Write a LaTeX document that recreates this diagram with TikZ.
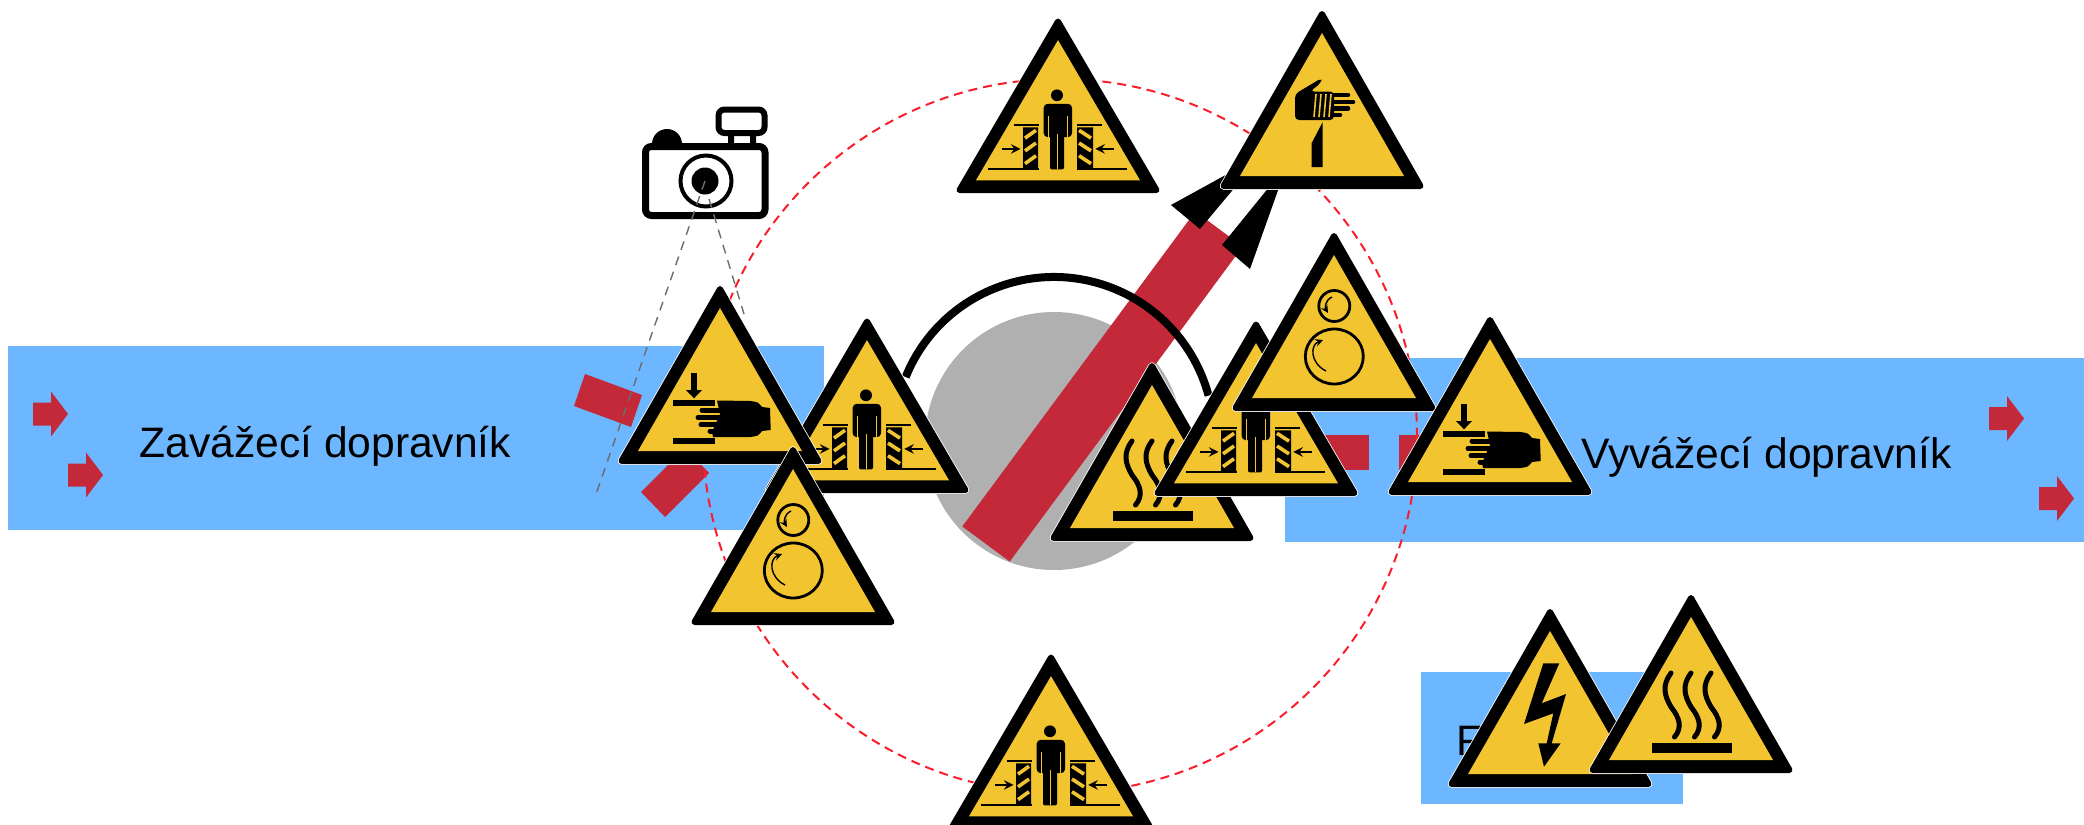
\documentclass[tikz,border=0pt]{standalone}
\usepackage{fontspec}
\usepackage{xcolor}
\setmainfont{Liberation Sans}
\definecolor{beltblue}{RGB}{108,183,255}
\definecolor{barred}{RGB}{196,41,57}
\definecolor{signyellow}{RGB}{242,196,48}
\definecolor{ringred}{RGB}{250,30,45}
\definecolor{hubgray}{RGB}{176,176,176}

\newcommand{\crushglyph}{
    \fill (-1,99.7) circle (6);
    \fill[rounded corners=2pt] (-14.3,57) -- (-14.3,91) -- (14,91) -- (14,57) -- cycle;
    \fill[rounded corners=1pt] (-8,62) rectangle (6,24);
    \draw[signyellow, line width=.5pt] (-9.7,56) -- (-9.7,79) (9.3,56) -- (9.3,79) (-1,24) -- (-1,60);
    \draw[line width=.9pt] (-44,69) -- (-19,69) (19,69) -- (44,69);
    \draw[line width=1.1pt] (-70,24.7) -- (-19,24.7) (19,24.7) -- (69,24.7);
    \fill (-35,25) rectangle (-20,67) (19,25) rectangle (35,67);
    \draw[signyellow, line width=1.8pt] (-33,30) -- (-22,38) (-33,43) -- (-22,51) (-33,56) -- (-22,64)
        (33,30) -- (21,38) (33,43) -- (21,51) (33,56) -- (21,64);
    \draw[line width=1.1pt, -stealth] (-56,45) -- (-37.5,45);
    \draw[line width=1.1pt, -stealth] (55.7,45) -- (37.3,45);
}
\newcommand{\handglyph}{
    \fill (-29,91) rectangle (-22.7,74);
    \fill (-34,74) -- (-18,74) -- (-26,65.7) -- cycle;
    \fill (-46.7,58) rectangle (-5,63.7);
    \fill (-46.7,20.3) rectangle (-5,25.7);
    \fill (-3,63.5) -- (30,63) .. controls (38,62) .. (42,57) -- (50,56) -- (50.7,34) -- (42,33) .. controls (38,28) .. (30,27) -- (-7,27) -- (-8,32) -- (0,50) -- cycle;
    \draw[line width=2.5pt, line cap=round] (-18,54) -- (5,54) (-22,46.5) -- (5,46.5) (-19,39.3) -- (5,39.3) (-10,33) -- (5,33);
}
\newcommand{\rollerglyph}{
    \draw[line width=1.4pt] (.3,105) circle (15.5);
    \draw[line width=1.4pt] (.3,54.5) ellipse (29 and 27.5);
    \draw[line width=.7pt, -stealth] (-8,40) .. controls (-24,48) and (-24,66) .. (-11,71);
    \draw[line width=.7pt, -stealth] (-2,114) .. controls (-9,111) and (-9,103) .. (-6,98);
}
\newcommand{\cutglyph}{
    \fill[rounded corners=2pt] (-.3,111) -- (-1,106) -- (-12,97.5) -- (12,97.5) -- (12,69) -- (-27,69) -- (-27,95) -- cycle;
    \draw[line width=2.3pt, line cap=round] (8,94) -- (26,94) (8,87) -- (31,87) (8,80.5) -- (26,80.5) (8,74) -- (18,74);
    \draw[signyellow, line width=.8pt] (-6,95) -- (-8,72) (-1,95) -- (-3,72) (4,95) -- (2,72) (9,95) -- (7,72);
    \fill (.7,67) -- (.7,22) -- (-10.3,22) -- (-10.3,46) -- cycle;
}
\newcommand{\heatglyph}{
    \fill (-39.5,20.3) rectangle (41,29.7);
    \draw[line width=2.5pt, line cap=round] (-20,100) .. controls (-29,88) and (-27,78) .. (-20,66) .. controls (-12,56) and (-8,46) .. (-16.5,36);
    \draw[line width=2.5pt, line cap=round] (0,100) .. controls (-9,88) and (-7,78) .. (0,66) .. controls (8,56) and (12,46) .. (3.5,36);
    \draw[line width=2.5pt, line cap=round] (20,100) .. controls (11,88) and (13,78) .. (20,66) .. controls (28,56) and (32,46) .. (23.5,36);
}
\newcommand{\boltglyph}{
    \fill (-6.7,123.7) -- (9.3,123.7) -- (-8.3,83.7) -- (16,93) -- (1.7,43.7) -- (10.7,43.7) -- (-6,20.3) -- (-11.7,43.7) -- (-3.3,43.7) -- (3.3,73.7) -- (-26,63) -- cycle;
}

\tikzset{
    belt/.style={fill=beltblue},
    beltlabel/.style={font=\fontsize{21.3}{24}\selectfont, anchor=base west, inner sep=0pt},
    ring/.style={draw=ringred, line width=1pt, dash pattern=on 4.5pt off 3pt},
    sightline/.style={draw=gray!85!black, line width=.7pt, dash pattern=on 4.5pt off 3.5pt},
    armbar/.style={draw=barred, line width=29.5pt},
    warnsign/.pic={
        \begin{scope}[x=.5pt,y=.5pt]
        \draw[white, line width=3.8pt, line join=round] (-98.5,3) -- (98.5,3) -- (0,175) -- cycle;
        \draw[fill=black, line width=3pt, line join=round] (-98.5,3) -- (98.5,3) -- (0,175) -- cycle;
        \fill[signyellow] (-82,13) -- (82,13) -- (0,156) -- cycle;
        #1
        \end{scope}
    },
    flowarrow/.pic={
        \fill[barred] (0,-11.5) -- (18,-11.5) -- (18,-22.5) -- (35,0) -- (18,22.5) -- (18,11.5) -- (0,11.5) -- cycle;
    }
}

\begin{document}
\begin{tikzpicture}[x=.5pt,y=-.5pt]
    \useasboundingbox (0,0) rectangle (2084,825);
    \coordinate (hub) at (1054,441);
    \coordinate (swing) at (1054,437);
    \coordinate (ringc) at (1060,436);
    \coordinate (barfoot) at (986,544);
    \coordinate (bartop) at (1219,229);
    \coordinate (lens) at (705,181);
    \coordinate (sighta) at (595,497);
    \coordinate (lensb) at (709,199);
    \coordinate (sightb) at (744,314);

    \fill[belt] (8,346) rectangle (824,530);
    \fill[belt] (1285,358) rectangle (2084,542);
    \fill[belt] (1421,672) rectangle (1683,804);
    \node[beltlabel] (infeed) at (139,457) {Zavážecí dopravník};
    \node[beltlabel] (outfeed) at (1581,468) {Vyvážecí dopravník};
    \node[beltlabel] (third) at (1456,755.5) {F};
    \pic (fa) at (33,414) {flowarrow};
    \pic (fb) at (68,475) {flowarrow};
    \pic (fc) at (1989,418.5) {flowarrow};
    \pic (fd) at (2039,498.5) {flowarrow};

    \fill[barred] (585,374) -- (642,395) -- (631,427) -- (574,406) -- cycle;
    \fill[barred] (641,492) -- (665,517) -- (709,473) -- (685,448) -- cycle;
    \fill[barred] (1320,435) rectangle (1369,470);
    \fill[barred] (1399,435) rectangle (1450,470);

    \draw[ring] (ringc) circle (357);
    \fill[hubgray] (hub) circle (129);
    \draw[armbar] (barfoot) -- (bartop);
    \draw[line width=4pt] (swing) ++(-158:160) arc (-158:-15:160);
    \fill (1171,205) -- (1200,229) -- (1262,155) -- cycle;
    \fill (1222,245) -- (1250,269) -- (1287,165) -- cycle;

    % camera
    \draw[line width=3.5pt, rounded corners=3pt] (645.5,146.5) rectangle (765,215.5);
    \fill (652,144) arc (-180:0:15) -- cycle;
    \draw[line width=3pt, rounded corners=3pt] (718.5,109.5) rectangle (764.5,133);
    \fill (728,134) rectangle (734,144) (750,134) rectangle (756,144);
    \draw[line width=2pt] (706,181) circle (25.5);
    \fill (lens) circle (13.5);
    \draw[sightline] (lens) -- (sighta);
    \draw[sightline] (lensb) -- (sightb);

    \pic[yscale=.98] (crusha) at (1058,193) {warnsign=\crushglyph};
    \pic (cuta) at (1322,189) {warnsign=\cutglyph};
    \pic (heata) at (1152,541) {warnsign=\heatglyph};
    \pic[yscale=.98] (crushb) at (1256,496) {warnsign=\crushglyph};
    \pic (rollera) at (1334,411) {warnsign=\rollerglyph};
    \pic (handa) at (1490,495) {warnsign=\handglyph};
    \pic[yscale=.98] (crushc) at (867,493) {warnsign=\crushglyph};
    \pic (handb) at (720,464) {warnsign=\handglyph};
    \pic (rollerb) at (793,625) {warnsign=\rollerglyph};
    \pic[yscale=.98] (crushd) at (1051,829) {warnsign=\crushglyph};
    \pic (volt) at (1550,787) {warnsign=\boltglyph};
    \pic (heatb) at (1691,773) {warnsign=\heatglyph};
\end{tikzpicture}
\end{document}
